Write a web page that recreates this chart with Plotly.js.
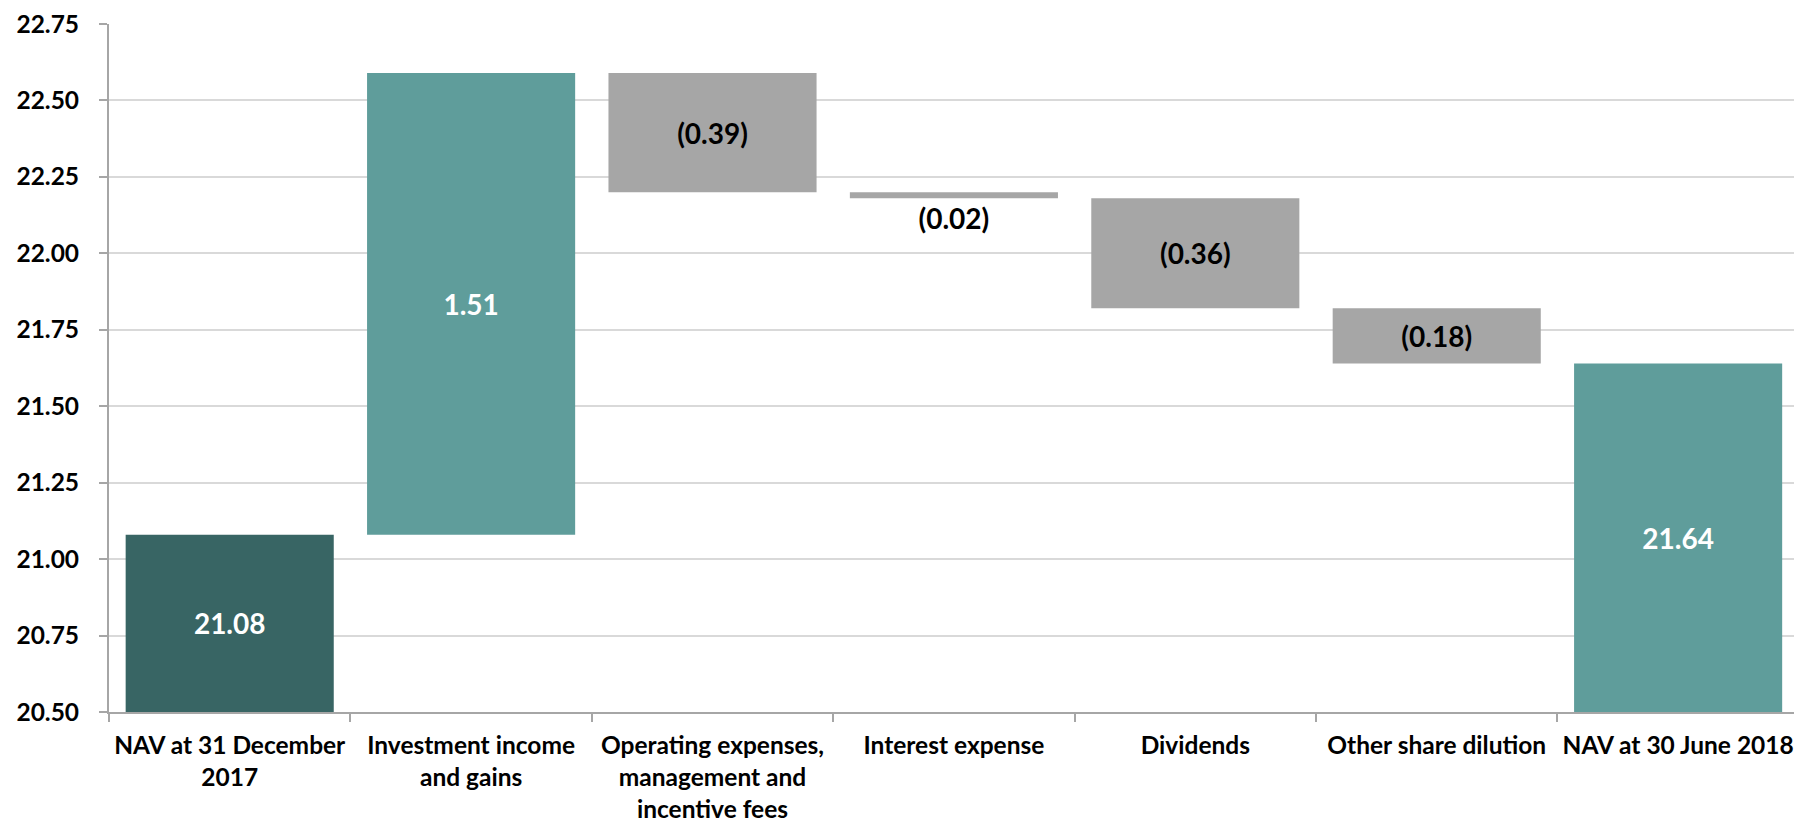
<!DOCTYPE html>
<html>
<head>
<meta charset="utf-8">
<script src="https://cdn.plot.ly/plotly-3.0.1.min.js"></script>
<style>html,body{margin:0;padding:0;background:#fff;}#chart{width:1794px;height:822px;}</style>
</head>
<body>
<div id="chart"></div>
<script>
// ---- data ----
const categories = [
  "NAV at 31 December<br>2017",
  "Investment income<br>and gains",
  "Operating expenses,<br>management and<br>incentive fees",
  "Interest expense",
  "Dividends",
  "Other share dilution",
  "NAV at 30 June 2018"
];
const measures = ["absolute", "relative", "relative", "relative", "relative", "relative", "total"];
const values = [21.08, 1.51, -0.39, -0.02, -0.36, -0.18, 21.64];
const labels = ["21.08", "1.51", "(0.39)", "(0.02)", "(0.36)", "(0.18)", "21.64"];
const barColors = ["#386564", "#5f9d9b", "#a6a6a6", "#a6a6a6", "#a6a6a6", "#a6a6a6", "#5f9d9b"];
const labelColors = ["#ffffff", "#ffffff", "#000000", "#000000", "#000000", "#000000", "#ffffff"];
const yTicks = [20.50, 20.75, 21.00, 21.25, 21.50, 21.75, 22.00, 22.25, 22.50, 22.75];

// ---- build waterfall geometry from values ----
const yMin = yTicks[0], yMax = yTicks[yTicks.length - 1];
let running = 0;
const bases = [], heights = [];
values.forEach((v, i) => {
  if (measures[i] === "relative") {
    bases.push(running);
    heights.push(v);
    running += v;
  } else {
    running = v;
    bases.push(yMin);
    heights.push(v - yMin);
  }
});
const textPos = heights.map(h => Math.abs(h) < 0.05 ? "outside" : "inside");

const trace = {
  type: "bar",
  x: categories,
  y: heights,
  base: bases,
  marker: { color: barColors, line: { width: 0 } },
  text: labels,
  textposition: textPos,
  insidetextanchor: "middle",
  constraintext: "none",
  cliponaxis: false,
  textfont: { family: "Lato", size: 28, color: labelColors, weight: "bold" },
  hoverinfo: "skip"
};

const layout = {
  width: 1794,
  height: 822,
  margin: { l: 109, r: 0, t: 24, b: 110 },
  paper_bgcolor: "#ffffff",
  plot_bgcolor: "#ffffff",
  showlegend: false,
  bargap: 0.138,
  font: { family: "Lato", color: "#000000" },
  xaxis: {
    type: "category",
    range: [-0.5, 6.48],
    showgrid: false,
    showline: true,
    linecolor: "#a6a6a6",
    linewidth: 2,
    ticks: "outside",
    tickson: "boundaries",
    ticklen: 8,
    tickwidth: 2,
    tickcolor: "#a6a6a6",
    tickangle: 0,
    tickfont: { family: "Lato", size: 24.5, color: "#000000", weight: "bold" },
    ticklabelstandoff: 11,
    fixedrange: true
  },
  yaxis: {
    range: [yMin, yMax],
    tickvals: yTicks,
    ticktext: yTicks.map(v => v.toFixed(2)),
    showgrid: true,
    gridcolor: "#d9d9d9",
    gridwidth: 2,
    showline: true,
    linecolor: "#a6a6a6",
    linewidth: 2,
    ticks: "outside",
    ticklen: 8,
    tickwidth: 2,
    tickcolor: "#a6a6a6",
    tickfont: { family: "Lato", size: 24.5, color: "#000000", weight: "bold" },
    ticklabelstandoff: 15,
    zeroline: false,
    fixedrange: true
  }
};

Plotly.newPlot("chart", [trace], layout, { displayModeBar: false, staticPlot: true });
</script>
</body>
</html>
